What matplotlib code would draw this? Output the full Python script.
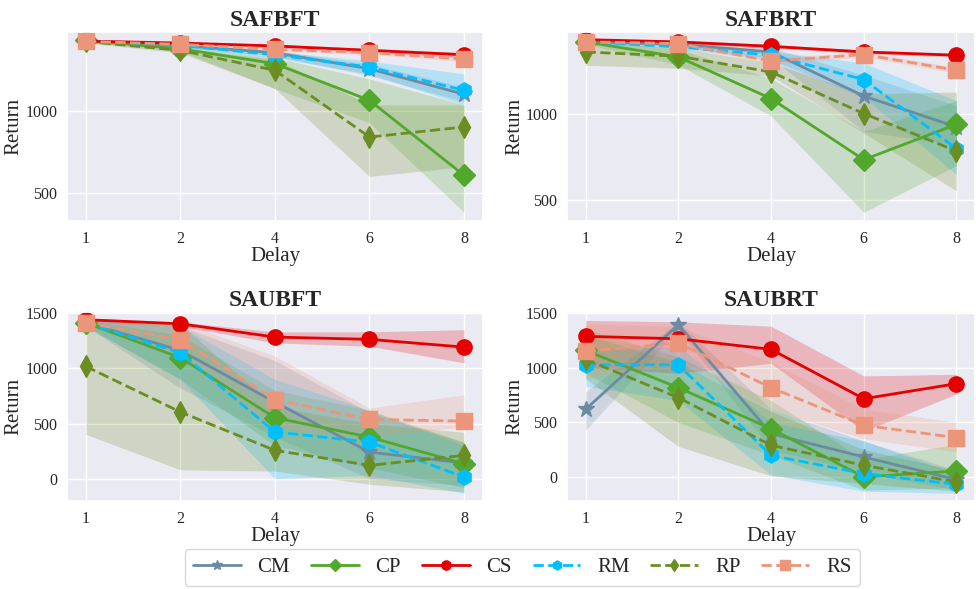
import matplotlib
matplotlib.use('Agg')
import matplotlib.pyplot as plt
import seaborn as sns
import numpy as np

sns.set_theme(style='darkgrid')
plt.rcParams['font.family'] = ['Liberation Serif', 'DejaVu Serif']

delays = ['1', '2', '4', '6', '8']
methods = ['CM', 'CP', 'CS', 'RM', 'RP', 'RS']
tasks = ['SAFBFT', 'SAFBRT', 'SAUBFT', 'SAUBRT']

# mean returns per task (order of methods above)
safbft_mean = {
    'CM': [1430, 1405, 1360, 1262, 1105],
    'CP': [1436, 1385, 1293, 1068, 607],
    'CS': [1432, 1420, 1402, 1375, 1348],
    'RM': [1430, 1405, 1348, 1272, 1129],
    'RP': [1430, 1375, 1252, 842, 904],
    'RS': [1430, 1412, 1381, 1361, 1322],
}
safbft_lo = {
    'CM': [1425, 1395, 1340, 1220, 1060],
    'CP': [1425, 1370, 1140, 930, 380],
    'CS': [1428, 1412, 1390, 1362, 1330],
    'RM': [1425, 1395, 1330, 1230, 1040],
    'RP': [1420, 1360, 1140, 600, 660],
    'RS': [1425, 1400, 1370, 1350, 1305],
}
safbft_hi = {
    'CM': [1435, 1415, 1375, 1290, 1150],
    'CP': [1445, 1400, 1330, 1200, 1040],
    'CS': [1437, 1428, 1412, 1388, 1362],
    'RM': [1435, 1415, 1370, 1310, 1230],
    'RP': [1440, 1390, 1320, 1040, 1040],
    'RS': [1436, 1422, 1392, 1372, 1340],
}

safbrt_mean = {
    'CM': [1425, 1410, 1365, 1107, 926],
    'CP': [1424, 1336, 1092, 734, 941],
    'CS': [1437, 1424, 1398, 1365, 1346],
    'RM': [1425, 1395, 1346, 1203, 799],
    'RP': [1365, 1340, 1248, 1004, 785],
    'RS': [1424, 1414, 1311, 1350, 1258],
}
safbrt_lo = {
    'CM': [1418, 1395, 1330, 900, 820],
    'CP': [1410, 1290, 990, 426, 700],
    'CS': [1430, 1415, 1388, 1355, 1335],
    'RM': [1418, 1385, 1320, 1100, 648],
    'RP': [1287, 1270, 1225, 890, 551],
    'RS': [1415, 1405, 1295, 1335, 1240],
}
safbrt_hi = {
    'CM': [1432, 1425, 1390, 1230, 1050],
    'CP': [1438, 1380, 1210, 900, 1080],
    'CS': [1444, 1432, 1408, 1375, 1356],
    'RM': [1432, 1405, 1370, 1300, 1080],
    'RP': [1420, 1390, 1300, 1120, 1130],
    'RS': [1432, 1422, 1330, 1365, 1275],
}

saubft_mean = {
    'CM': [1412, 1162, 694, 241, 142],
    'CP': [1412, 1096, 552, 377, 136],
    'CS': [1440, 1403, 1283, 1262, 1192],
    'RM': [1412, 1141, 423, 332, 15],
    'RP': [1017, 604, 257, 121, 211],
    'RS': [1412, 1259, 716, 537, 522],
}
saubft_lo = {
    'CM': [1380, 820, 380, 0, -60],
    'CP': [1380, 900, 300, 100, -80],
    'CS': [1420, 1380, 1230, 1200, 1050],
    'RM': [1380, 900, 0, 30, -130],
    'RP': [401, 81, 69, -50, -120],
    'RS': [1390, 1100, 450, 380, 470],
}
saubft_hi = {
    'CM': [1440, 1380, 1070, 600, 330],
    'CP': [1440, 1300, 800, 620, 330],
    'CS': [1455, 1420, 1330, 1330, 1350],
    'RM': [1440, 1380, 900, 620, 300],
    'RP': [1420, 1400, 650, 500, 420],
    'RS': [1440, 1420, 1110, 640, 760],
}

saubrt_mean = {
    'CM': [619, 1393, 396, 183, -24],
    'CP': [1158, 817, 442, 0, 55],
    'CS': [1287, 1265, 1168, 716, 854],
    'RM': [1027, 1027, 198, 30, -67],
    'RP': [1076, 726, 290, 107, -46],
    'RS': [1149, 1226, 817, 473, 360],
}
saubrt_lo = {
    'CM': [430, 1350, 250, 40, -120],
    'CP': [950, 500, 200, -120, -100],
    'CS': [1000, 950, 1040, 420, 760],
    'RM': [830, 700, 20, -130, -150],
    'RP': [900, 280, 10, -60, -130],
    'RS': [900, 1050, 620, 350, 230],
}
saubrt_hi = {
    'CM': [780, 1420, 620, 330, 60],
    'CP': [1350, 1100, 700, 160, 300],
    'CS': [1433, 1420, 1380, 925, 940],
    'RM': [1150, 1200, 500, 330, 30],
    'RP': [1300, 1050, 600, 250, 60],
    'RS': [1400, 1380, 1050, 620, 500],
}

means = [safbft_mean, safbrt_mean, saubft_mean, saubrt_mean]
los = [safbft_lo, safbrt_lo, saubft_lo, saubrt_lo]
his = [safbft_hi, safbrt_hi, saubft_hi, saubrt_hi]
ylims = [(326, 1488), (375, 1482), (-202, 1510), (-220, 1510)]
yticks = [[500, 1000], [500, 1000], [0, 500, 1000, 1500], [0, 500, 1000, 1500]]

colors = {'CM': '#6b8ba4', 'CP': '#52a82c', 'CS': '#e50000',
          'RM': '#00bfff', 'RP': '#6b8e23', 'RS': '#eb957a'}
markers = {'CM': '*', 'CP': 'D', 'CS': 'o', 'RM': 'h', 'RP': 'd', 'RS': 's'}
styles = {'CM': '-', 'CP': '-', 'CS': '-', 'RM': '--', 'RP': '--', 'RS': '--'}

fig = plt.figure(figsize=(9.76, 5.89), dpi=100)
rects = [[0.0686, 0.6248, 0.4262, 0.3209],
         [0.581, 0.6248, 0.418, 0.3209],
         [0.0686, 0.1494, 0.4262, 0.3209],
         [0.581, 0.1494, 0.418, 0.3209]]

x = np.arange(len(delays))
handles = []
for i, task in enumerate(tasks):
    ax = fig.add_axes(rects[i])
    for m in methods:
        ax.fill_between(x, los[i][m], his[i][m], color=colors[m], alpha=0.22, linewidth=0)
        h, = ax.plot(x, means[i][m], color=colors[m], linestyle=styles[m], marker=markers[m],
                     markersize=11 if m != 'CM' else 12, linewidth=2, label=m)
        if i == 0:
            handles.append(h)
    ax.set_xticks(x)
    ax.set_xticklabels(delays)
    ax.set_xlim(-0.2, 4.2)
    ax.set_ylim(*ylims[i])
    ax.set_yticks(yticks[i])
    ax.tick_params(labelsize=11.5, pad=1)
    ax.set_title(task, fontsize=17, fontweight='bold', pad=4)
    ax.set_xlabel('Delay', fontsize=15, labelpad=0)
    ax.set_ylabel('Return', fontsize=15, labelpad=1)

leg = fig.legend(handles=handles, labels=methods, loc='lower center', ncol=6,
                 bbox_to_anchor=(0.535, -0.012), fontsize=15, frameon=True,
                 handlelength=2.3, handletextpad=0.8, columnspacing=1.0, markerscale=0.6)
leg.get_frame().set_edgecolor('#cccccc')
leg.get_frame().set_facecolor('white')

fig.savefig('out.png', dpi=100)
